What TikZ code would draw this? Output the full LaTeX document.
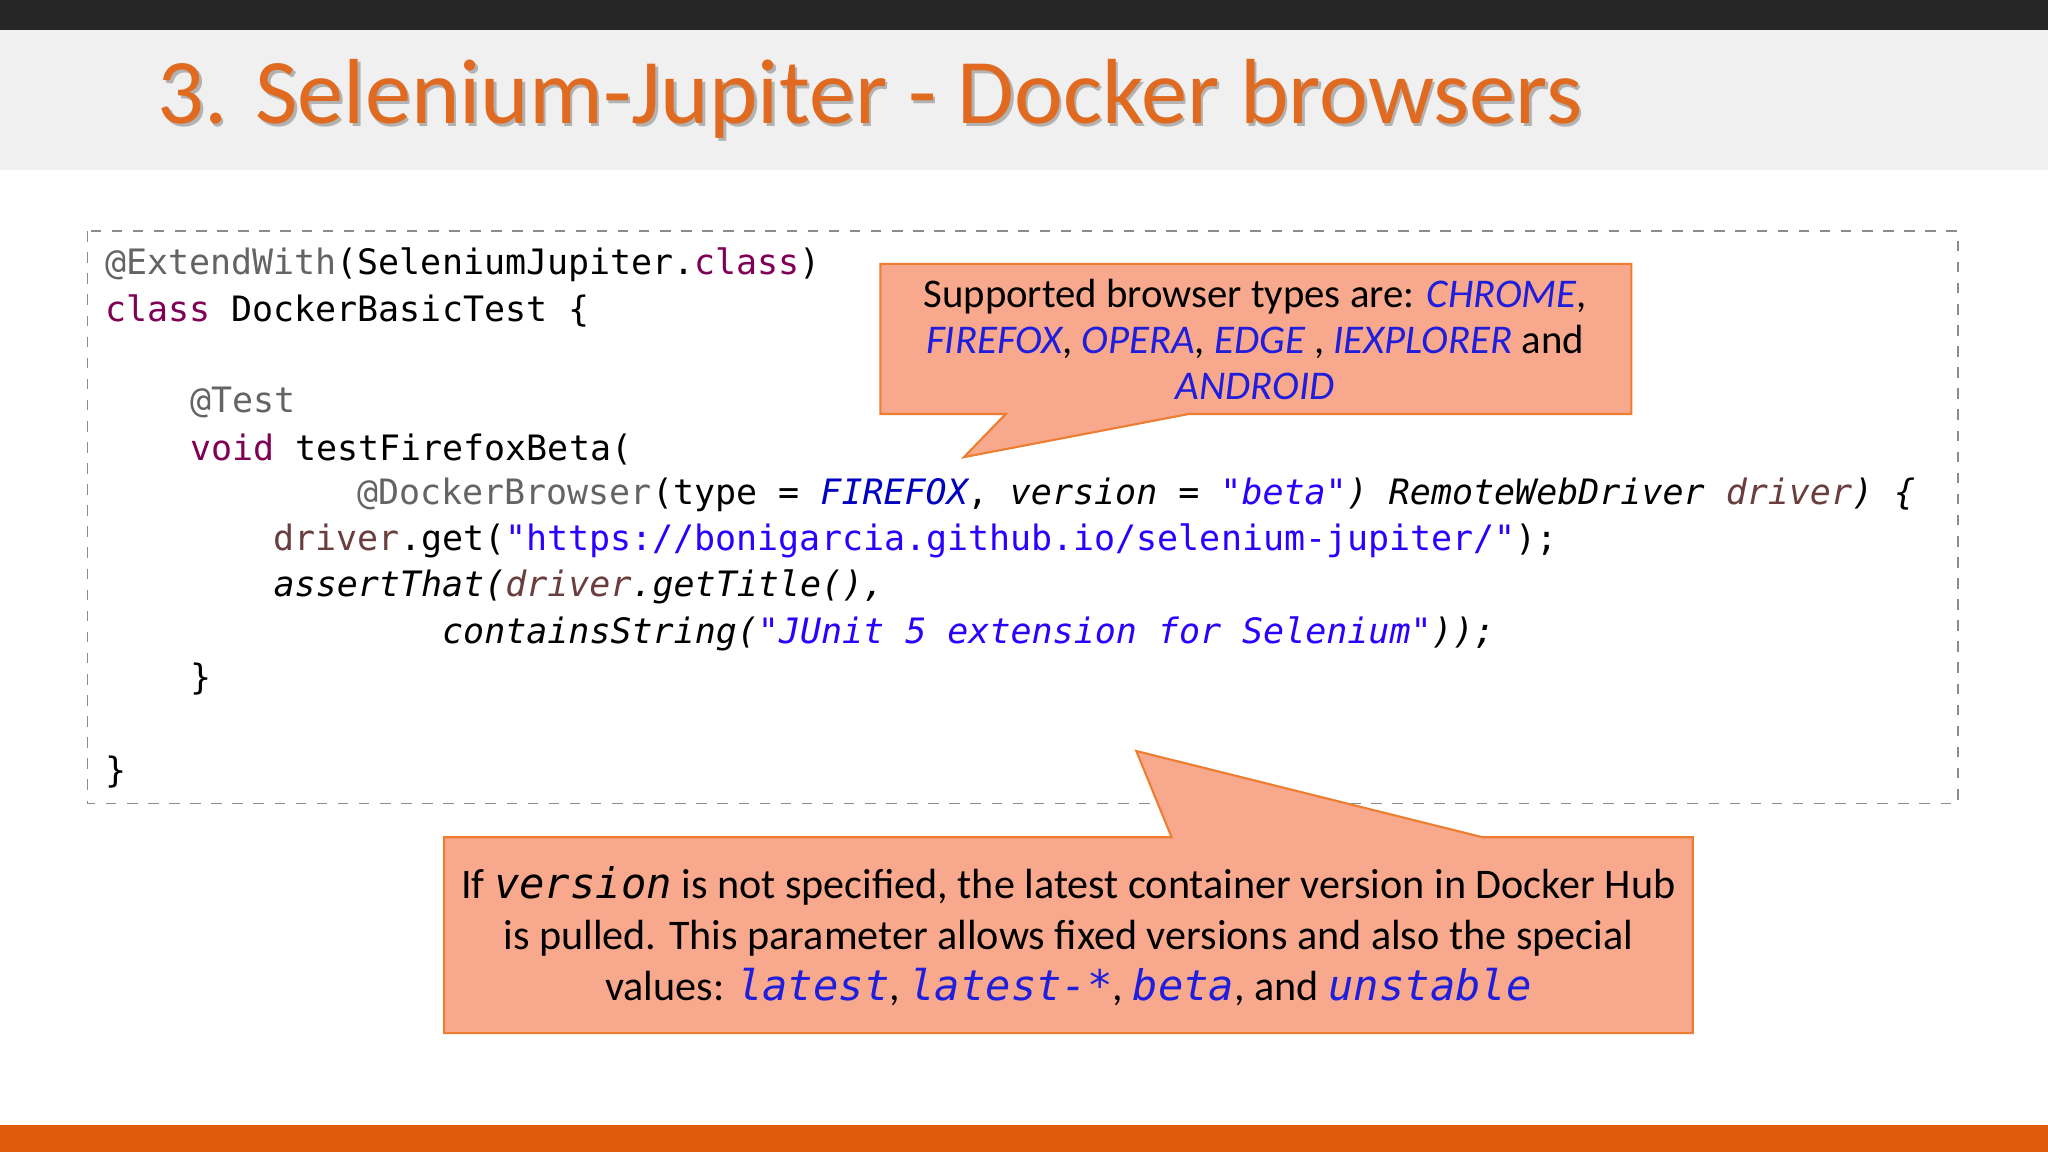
\documentclass[tikz,border=0pt]{standalone}
\usepackage{fontspec}
\setmainfont{Carlito}
\setmonofont{DejaVu Sans Mono}
\definecolor{ttl}{RGB}{224,106,32}
\definecolor{bar}{RGB}{224,92,12}
\definecolor{callf}{RGB}{248,168,140}
\definecolor{calld}{RGB}{236,125,49}
\definecolor{ann}{RGB}{100,100,100}
\definecolor{kw}{RGB}{127,0,85}
\definecolor{var}{RGB}{106,62,62}
\definecolor{str}{RGB}{42,0,255}
\definecolor{cst}{RGB}{0,0,192}
\definecolor{bl}{RGB}{30,30,220}
\newcommand{\A}[1]{\textcolor{ann}{#1}}
\newcommand{\K}[1]{\textcolor{kw}{#1}}
\newcommand{\V}[1]{\textcolor{var}{#1}}
\newcommand{\St}[1]{\textcolor{str}{#1}}
\newcommand{\Cs}[1]{\textcolor{cst}{\itshape #1}}
\newcommand{\B}[1]{\textcolor{bl}{\itshape #1}}
\begin{document}
\begin{tikzpicture}[x=0.013061cm,y=-0.013061cm,
  code/.style={anchor=west,inner sep=0pt,font=\ttfamily\fontsize{9.95}{12}\selectfont},
  call/.style={fill=callf,draw=calld,line width=0.6pt}]
\useasboundingbox (0,0) rectangle (1568,882);
\fill[white] (0,0) rectangle (1568,882);
\fill[black!85] (0,0) rectangle (1568,23);
\fill[black!6] (0,23) rectangle (1568,130);
\fill[bar] (0,861) rectangle (1568,882);
\node[anchor=west,inner sep=0pt,text=black!30,font=\fontsize{26.3}{30}\selectfont] at (122,78) {3. Selenium-Jupiter - Docker browsers};
\node (title) [anchor=west,inner sep=0pt,text=ttl,font=\fontsize{26.3}{30}\selectfont] at (120,76) {3. Selenium-Jupiter - Docker browsers};
\draw[dashed,black!45] (67,177) rectangle (1499,615);
\node (l1) [code] at (80,203) {\A{@ExtendWith}(SeleniumJupiter.\K{class})};
\node (l2) [code] at (80,238) {\K{class} DockerBasicTest \{};
\node (l3) [code] at (145,308) {\A{@Test}};
\node (l4) [code] at (145,344) {\K{void} testFirefoxBeta(};
\node (l5) [code] at (273,379) {\A{@DockerBrowser}(type = \Cs{FIREFOX}, \itshape version = \St{"beta"}) RemoteWebDriver \V{driver}) \{};
\node (l6) [code] at (209,414) {\V{driver}.get(\St{"https://bonigarcia.github.io/selenium-jupiter/"});};
\node (l7) [code] at (209,449) {\itshape assertThat(\V{driver}.getTitle(),};
\node (l8) [code] at (338,485) {\itshape containsString(\St{"JUnit 5 extension for Selenium"}));};
\node (l9) [code] at (145,520) {\}};
\node (l10) [code] at (80,591) {\}};
\draw[call] (674,202) -- (1249,202) -- (1249,317) -- (910,317) -- (738,350) -- (770,317) -- (674,317) -- cycle;
\node (c1) [align=center,font=\fontsize{11.6}{13.2}\selectfont] at (961,260) {Supported browser types are: \B{CHROME},\\ \B{FIREFOX}, \B{OPERA}, \B{EDGE} , \B{IEXPLORER} and\\ \B{ANDROID}};
\draw[call] (340,641) -- (897,641) -- (870,575) -- (1135,641) -- (1296,641) -- (1296,791) -- (340,791) -- cycle;
\node (c2) [align=center,font=\fontsize{12}{14.5}\selectfont] at (818,717) {If {\ttfamily\itshape version} is not specified, the latest container version in Docker Hub\\ is pulled. This parameter allows fixed versions and also the special\\ values: \textcolor{bl}{\ttfamily\itshape latest}, \textcolor{bl}{\ttfamily\itshape latest-*}, \textcolor{bl}{\ttfamily\itshape beta}, and \textcolor{bl}{\ttfamily\itshape unstable}};
\end{tikzpicture}
\end{document}
